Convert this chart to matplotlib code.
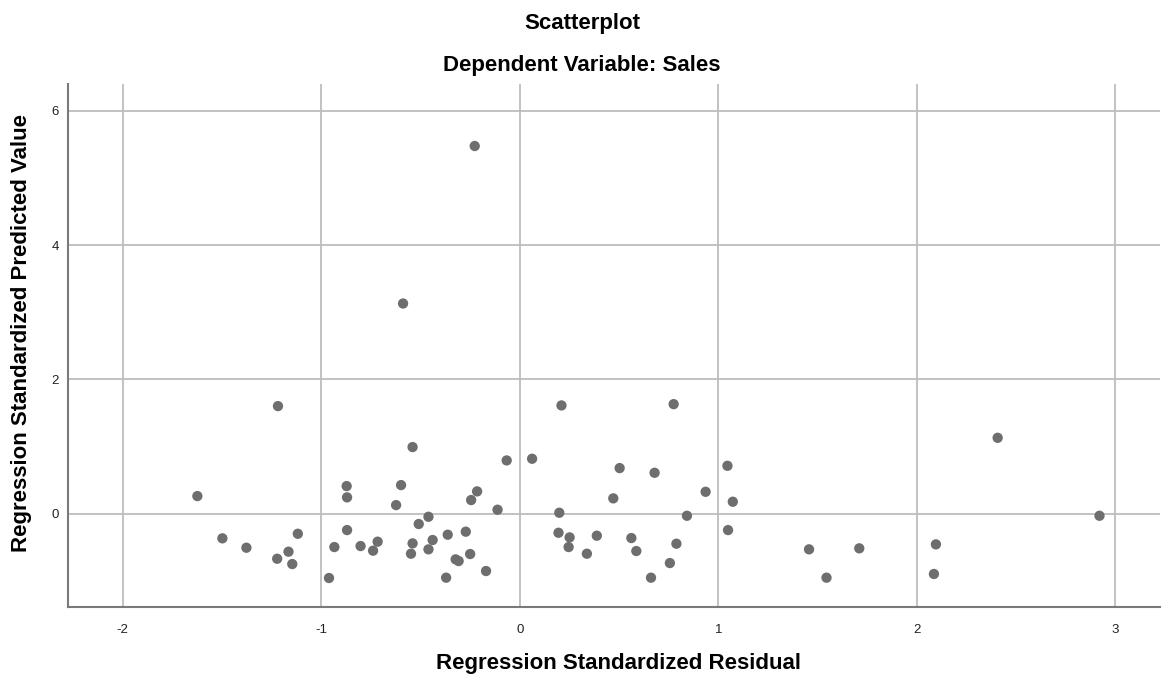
import matplotlib.pyplot as plt

plt.rcParams['font.family'] = ['Liberation Sans', 'DejaVu Sans']
plt.rcParams['axes.unicode_minus'] = False

# Standardized residual (x) vs standardized predicted value (y)
resid = [-1.624, -1.218, -1.498, -1.377, -1.222, -1.165, -1.146, -1.118, -0.961,
         -0.934, -0.872, -0.870, -0.870, -0.802, -0.739, -0.716, -0.598, -0.623,
         -0.540, -0.509, -0.460, -0.540, -0.548, -0.439, -0.460, -0.363, -0.371,
         -0.323, -0.308, -0.272, -0.250, -0.245, -0.215, -0.170, -0.112, -0.066,
         0.062, 0.210, 0.199, 0.195, 0.251, 0.246, 0.338, 0.388, 0.471, 0.503,
         0.562, 0.587, 0.679, 0.661, 0.756, 0.775, 0.789, 0.842, 0.936, 1.046,
         1.073, 1.049, -0.227, -0.588, 1.457, 1.545, 1.710, 2.096, 2.086, 2.407,
         2.920]
pred = [0.263, 1.603, -0.366, -0.506, -0.670, -0.565, -0.749, -0.298, -0.957,
        -0.496, 0.412, 0.244, -0.243, -0.481, -0.550, -0.416, 0.427, 0.129,
        0.993, -0.153, -0.045, -0.441, -0.595, -0.391, -0.530, -0.312, -0.952,
        -0.679, -0.704, -0.267, -0.600, 0.204, 0.333, -0.853, 0.060, 0.794,
        0.819, 1.613, 0.015, -0.283, -0.352, -0.496, -0.595, -0.327, 0.229, 0.680,
        -0.362, -0.555, 0.610, -0.952, -0.734, 1.632, -0.446, -0.030, 0.327, 0.714,
        0.179, -0.243, 5.476, 3.131, -0.530, -0.952, -0.515, -0.456, -0.897, 1.131,
        -0.030]

x_ticks = [-2, -1, 0, 1, 2, 3]
y_ticks = [0, 2, 4, 6]

fig = plt.figure(figsize=(11.64, 6.75), dpi=100)
ax = fig.add_axes([0.0587, 0.1003, 0.9379, 0.7753])

ax.scatter(resid, pred, s=55, color='#6e6e6e', edgecolors='none', zorder=3)

ax.set_xlim(-2.274, 3.225)
ax.set_ylim(-1.393, 6.40)
ax.set_xticks(x_ticks)
ax.set_yticks(y_ticks)
ax.tick_params(length=0, labelsize=9.5, colors='#222222')
ax.tick_params(axis='x', pad=12)
ax.tick_params(axis='y', pad=7)

ax.grid(True, color='#bdbdbd', linewidth=1.3)
ax.set_axisbelow(True)
for side in ['top', 'right']:
    ax.spines[side].set_visible(False)
for side in ['left', 'bottom']:
    ax.spines[side].set_color('#7a7a7a')
    ax.spines[side].set_linewidth(1.5)

fig.text(0.5, 1 - 24 / 675, 'Scatterplot', ha='center', va='center',
         fontsize=16, fontweight='bold')
fig.text(0.5, 1 - 66 / 675, 'Dependent Variable: Sales', ha='center', va='center',
         fontsize=16, fontweight='bold')
fig.text(619 / 1164, 1 - 663 / 675, 'Regression Standardized Residual', ha='center',
         va='center', fontsize=16, fontweight='bold')
fig.text(22 / 1164, 1 - 333 / 675, 'Regression Standardized Predicted Value',
         ha='center', va='center', rotation=90, fontsize=16, fontweight='bold')

fig.savefig('out.png', dpi=100)
